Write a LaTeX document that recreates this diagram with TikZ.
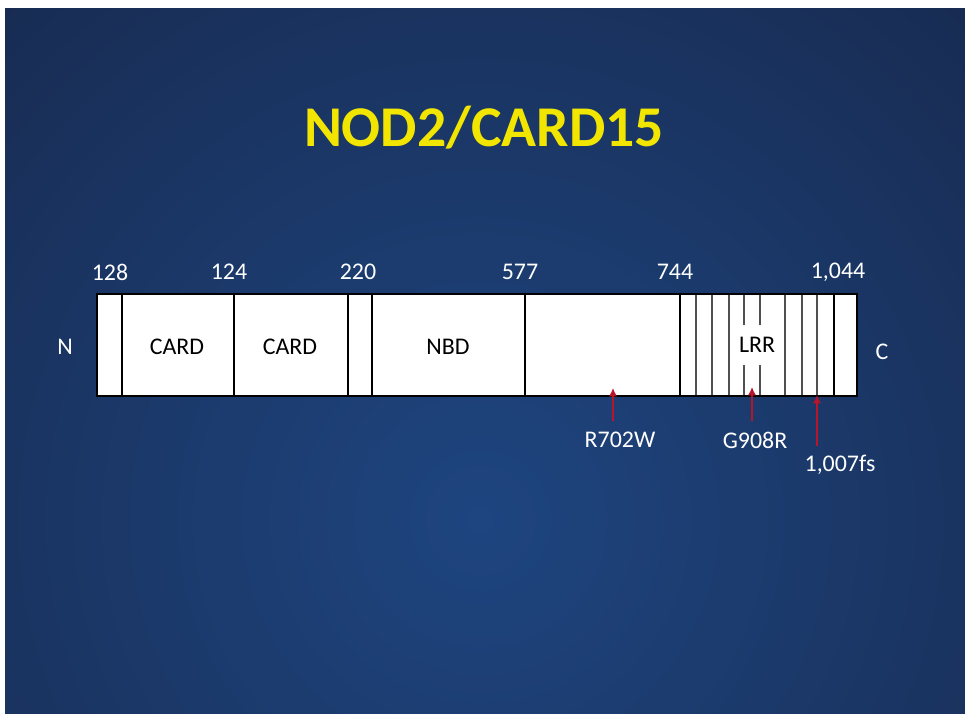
\documentclass[tikz,border=0pt]{standalone}
\usepackage{fontspec}
\setmainfont{Carlito}
\usetikzlibrary{arrows.meta,positioning}
\definecolor{SlideMid}{HTML}{1E4580}
\definecolor{SlideEdge}{HTML}{141C36}
\definecolor{Title}{HTML}{F2E600}
\definecolor{Mut}{HTML}{B8142A}
\definecolor{Rib}{HTML}{505050}

\begin{document}
\begin{tikzpicture}[x=0.025cm,y=-0.025cm,>=Latex,
    lbl/.style={font=\fontsize{17}{19}\selectfont,text=white,inner sep=1pt},
    dom/.style={font=\fontsize{17}{19}\selectfont,text=black,inner sep=1pt},
    edge/.style={line width=2.1pt,black},
    rib/.style={line width=1.5pt,Rib},
    mut/.style={->,line width=2pt,Mut,arrows={-Latex[length=6pt,width=6pt]}}]
      \useasboundingbox (0,0) rectangle (965,714);
      \fill[white] (0,0) rectangle (965,714);
      \begin{scope}
        \clip (5,9) rectangle (965,714);
        \shade[inner color=SlideMid,outer color=SlideEdge] (480,520) circle (1150);
      \end{scope}

      \node[font=\fontsize{41}{45}\selectfont\bfseries,text=Title] (title) at (484,128) {NOD2/CARD15};

      % protein bar
      \draw[edge,fill=white] (97,294) rectangle (857,396);
      \foreach \x in {696,712,729,744,760,785,802,817} {
        \draw[rib] (\x,295) -- (\x,395);
      }
      \foreach \x in {122,234,348,372,525,680,834} {
        \draw[edge] (\x,294) -- (\x,396);
      }

      \node[dom] (card1) at (177,347) {CARD};
      \node[dom] (card2) at (290,347) {CARD};
      \node[dom] (nbd) at (448,347) {NBD};
      \node[dom,fill=white,minimum height=39*0.025cm] (lrr) at (757,345) {LRR};

      \node[lbl] (nterm) at (65,347) {N};
      \node[lbl] (cterm) at (882,352) {C};

      \foreach \x/\n in {110/128,229/124,358/220,520/577,675/744,838/{1,044}} {
        \node[lbl] (pos-\x) at (\x,272) {\n};
      }

      % variants
      \coordinate (r702w-tip) at (613,388);
      \coordinate (r702w-end) at (613,421);
      \coordinate (g908r-tip) at (752,387);
      \coordinate (g908r-end) at (752,421);
      \coordinate (fs-tip) at (817,395);
      \coordinate (fs-end) at (817,446);
      \draw[mut] (r702w-end) -- (r702w-tip);
      \draw[mut] (g908r-end) -- (g908r-tip);
      \draw[mut] (fs-end) -- (fs-tip);

      \node[lbl] (r702w) at (620,440) {R702W};
      \node[lbl] (g908r) at (755,440) {G908R};
      \node[lbl] (fs) at (840,465) {1,007fs};
    \end{tikzpicture}
\end{document}
